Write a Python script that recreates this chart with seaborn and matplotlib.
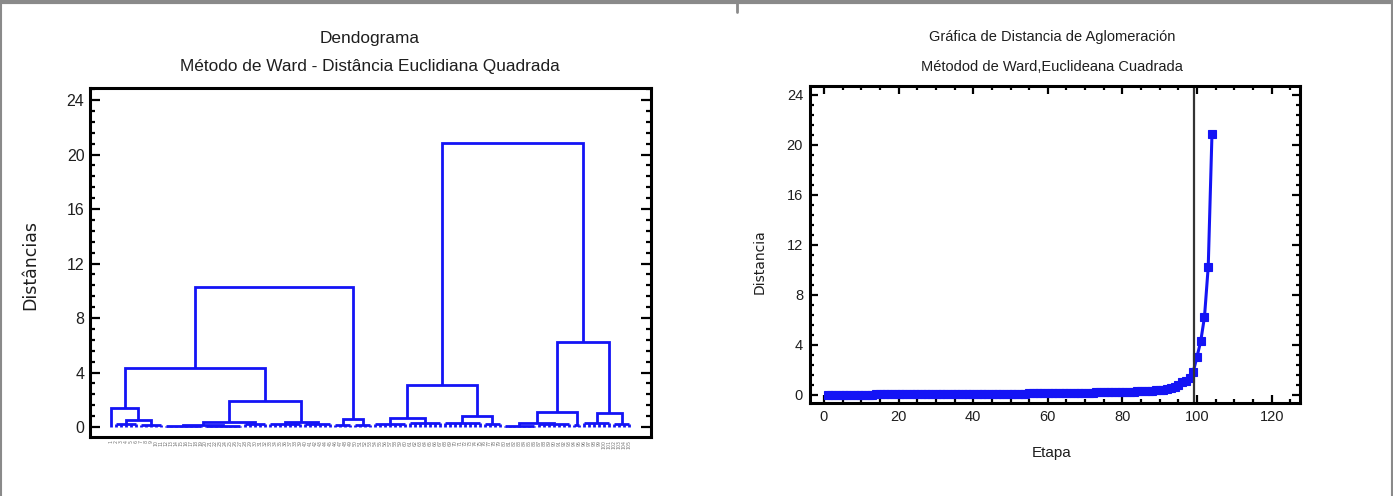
import numpy as np
import pandas as pd
import matplotlib
matplotlib.use("Agg")
import matplotlib.pyplot as plt
from matplotlib.ticker import MultipleLocator
from matplotlib.lines import Line2D
import seaborn as sns

# ---------------- data ----------------
titulo_izq = "Dendograma"
subtitulo_izq = "Método de Ward - Distância Euclidiana Quadrada"
ylabel_izq = "Distâncias"
titulo_der = "Gráfica de Distancia de Aglomeración"
subtitulo_der = "Métodod de Ward,Euclideana Cuadrada"
xlabel_der = "Etapa"
ylabel_der = "Distancia"

# groups of observations joined at (almost) zero distance: size and height
grupo_n = [1, 5, 5, 8, 8, 5, 7, 6, 4, 4, 7, 7, 8, 4, 7, 7, 2, 6, 4]
grupo_h = [0.0, 0.20, 0.15, 0.08, 0.10, 0.20, 0.22, 0.25, 0.12, 0.15,
           0.20, 0.28, 0.30, 0.20, 0.10, 0.25, 0.15, 0.30, 0.20]

# merge tree: (height, left, right); integers refer to the groups above
arbol_izq = (10.26, (4.32, (1.40, 0, (0.52, 1, 2)),
                     (1.88, (0.35, (0.14, 3, 4), 5), (0.40, 6, 7))),
             (0.60, 8, 9))
arbol_der = (20.85, (3.07, (0.67, 10, 11), (0.84, 12, 13)),
             (6.26, (1.12, (0.32, 14, 15), 16), (1.02, 17, 18)))

etiquetas = [str(i) for i in range(1, 106)]

etapas = list(range(1, 105))
distancias = [
    0.01, 0.01, 0.02, 0.02, 0.02, 0.03, 0.03, 0.03, 0.03, 0.04,
    0.04, 0.04, 0.04, 0.05, 0.05, 0.05, 0.05, 0.05, 0.06, 0.06,
    0.06, 0.06, 0.06, 0.07, 0.07, 0.07, 0.07, 0.07, 0.08, 0.08,
    0.08, 0.08, 0.08, 0.08, 0.09, 0.09, 0.09, 0.09, 0.09, 0.10,
    0.10, 0.10, 0.10, 0.10, 0.11, 0.11, 0.11, 0.11, 0.11, 0.12,
    0.12, 0.12, 0.12, 0.12, 0.13, 0.13, 0.13, 0.13, 0.13, 0.14,
    0.14, 0.14, 0.14, 0.14, 0.15, 0.15, 0.15, 0.15, 0.16, 0.16,
    0.20, 0.20, 0.21, 0.21, 0.22, 0.22, 0.23, 0.24, 0.25, 0.25,
    0.26, 0.27, 0.28, 0.29, 0.30, 0.31, 0.33, 0.35, 0.37, 0.39,
    0.42, 0.52, 0.60, 0.67, 0.84, 1.02, 1.12, 1.40, 1.88, 3.07,
    4.32, 6.26, 10.26, 20.85,
]
linea_corte = 99.3

# ---------------- style ----------------
sns.set_theme(style="white")
plt.rcParams["font.family"] = ["Liberation Sans", "DejaVu Sans"]
AZUL = "#1414f5"
TXT = "#1e1e1e"

W, H = 1393, 496
fig = plt.figure(figsize=(W / 100, H / 100), dpi=100)
fig.patch.set_facecolor("white")


def px_axes(x0, y0, x1, y1):
    return fig.add_axes([x0 / W, 1 - y1 / H, (x1 - x0) / W, (y1 - y0) / H])


# ---------------- left: dendrogram ----------------
ax1 = px_axes(90, 88, 651, 437)

lw_d = 2.0


def dibujar(ax, nodo, pos):
    if isinstance(nodo, int):
        k = grupo_n[nodo]
        h = grupo_h[nodo]
        if k == 1:
            return float(pos), 0.0, pos + 1
        xs = np.arange(pos, pos + k)
        for x in xs:
            ax.plot([x, x], [0, h], color=AZUL, lw=lw_d, solid_capstyle="butt")
        ax.plot([xs[0], xs[-1]], [h, h], color=AZUL, lw=lw_d, solid_capstyle="butt")
        return float(xs.mean()), h, pos + k
    altura, izq, der = nodo
    xl, hl, pos = dibujar(ax, izq, pos)
    xr, hr, pos = dibujar(ax, der, pos)
    ax.plot([xl, xl, xr, xr], [hl, altura, altura, hr], color=AZUL, lw=lw_d,
            solid_joinstyle="miter", solid_capstyle="butt")
    return (xl + xr) / 2, altura, pos


p = 0
_, _, p = dibujar(ax1, arbol_izq, p)
_, _, p = dibujar(ax1, arbol_der, p)

ax1.set_xlim(-4.2, 108.4)
ax1.set_ylim(-0.73, 24.88)
ax1.yaxis.set_major_locator(MultipleLocator(4))
ax1.yaxis.set_minor_locator(MultipleLocator(0.8))
ax1.set_xticks(range(len(etiquetas)))
ax1.set_xticklabels(etiquetas, rotation=90, fontsize=3.4, color="#777777",
                    family="DejaVu Sans")
ax1.tick_params(axis="x", which="both", length=0, pad=2)
ax1.tick_params(axis="y", which="both", direction="in", left=True, right=True,
                labelsize=11.5, pad=4, color="black", width=1.6, labelcolor=TXT)
ax1.tick_params(axis="y", which="major", length=7)
ax1.tick_params(axis="y", which="minor", length=3.5)
for s in ax1.spines.values():
    s.set_linewidth(2.2)
    s.set_color("black")
ax1.set_ylabel("")
fig.text(30 / W, 1 - 265 / H, ylabel_izq, rotation=90, ha="center", va="center",
         fontsize=12.5, family=["DejaVu Sans"], color=TXT)
fig.text(370 / W, 1 - 38 / H, titulo_izq, ha="center", va="center", fontsize=12.4,
         color=TXT)
fig.text(370 / W, 1 - 67 / H, subtitulo_izq, ha="center", va="center", fontsize=12.4,
         color=TXT)

# ---------------- right: agglomeration distance ----------------
ax2 = px_axes(810, 86, 1300, 403)
df = pd.DataFrame({"Etapa": etapas, "Distancia": distancias})
sns.lineplot(data=df, x="Etapa", y="Distancia", ax=ax2, color=AZUL, lw=2.2,
             marker="s", markersize=5.4, markeredgecolor=AZUL, markeredgewidth=0.8)
ax2.axvline(linea_corte, color="#333333", lw=1.6)
ax2.set_xlim(-3.75, 127.6)
ax2.set_ylim(-0.64, 24.72)
ax2.xaxis.set_major_locator(MultipleLocator(20))
ax2.xaxis.set_minor_locator(MultipleLocator(5))
ax2.yaxis.set_major_locator(MultipleLocator(4))
ax2.yaxis.set_minor_locator(MultipleLocator(0.8))
ax2.tick_params(which="both", direction="in", left=True, right=True, top=True,
                bottom=True, labelsize=10.5, color="black", width=1.6, pad=5,
                labelcolor=TXT)
ax2.tick_params(which="major", length=6)
ax2.tick_params(which="minor", length=3)
for s in ax2.spines.values():
    s.set_linewidth(2.2)
    s.set_color("black")
ax2.set_xlabel("")
ax2.set_ylabel("")
fig.text(1052 / W, 1 - 453 / H, xlabel_der, ha="center", va="center", fontsize=11,
         color=TXT)
fig.text(760 / W, 1 - 262 / H, ylabel_der, rotation=90, ha="center", va="center",
         fontsize=10, family=["DejaVu Sans"], color=TXT)
fig.text(1052 / W, 1 - 37 / H, titulo_der, ha="center", va="center", fontsize=10.5,
         color=TXT)
fig.text(1052 / W, 1 - 67 / H, subtitulo_der, ha="center", va="center", fontsize=10.5,
         color=TXT)

# ---------------- outer frame ----------------
borde = "#8a8a8a"
fig.add_artist(Line2D([0, 1], [1 - 1.5 / H, 1 - 1.5 / H], color=borde, lw=3,
                      transform=fig.transFigure))
fig.add_artist(Line2D([1 / W, 1 / W], [0, 1], color=borde, lw=1.5,
                      transform=fig.transFigure))
fig.add_artist(Line2D([1 - 1 / W, 1 - 1 / W], [0, 1], color=borde, lw=1.5,
                      transform=fig.transFigure))
fig.add_artist(Line2D([737 / W, 737 / W], [1, 1 - 12 / H], color=borde, lw=2,
                      transform=fig.transFigure))

fig.savefig("out.png", dpi=100, facecolor="white")
